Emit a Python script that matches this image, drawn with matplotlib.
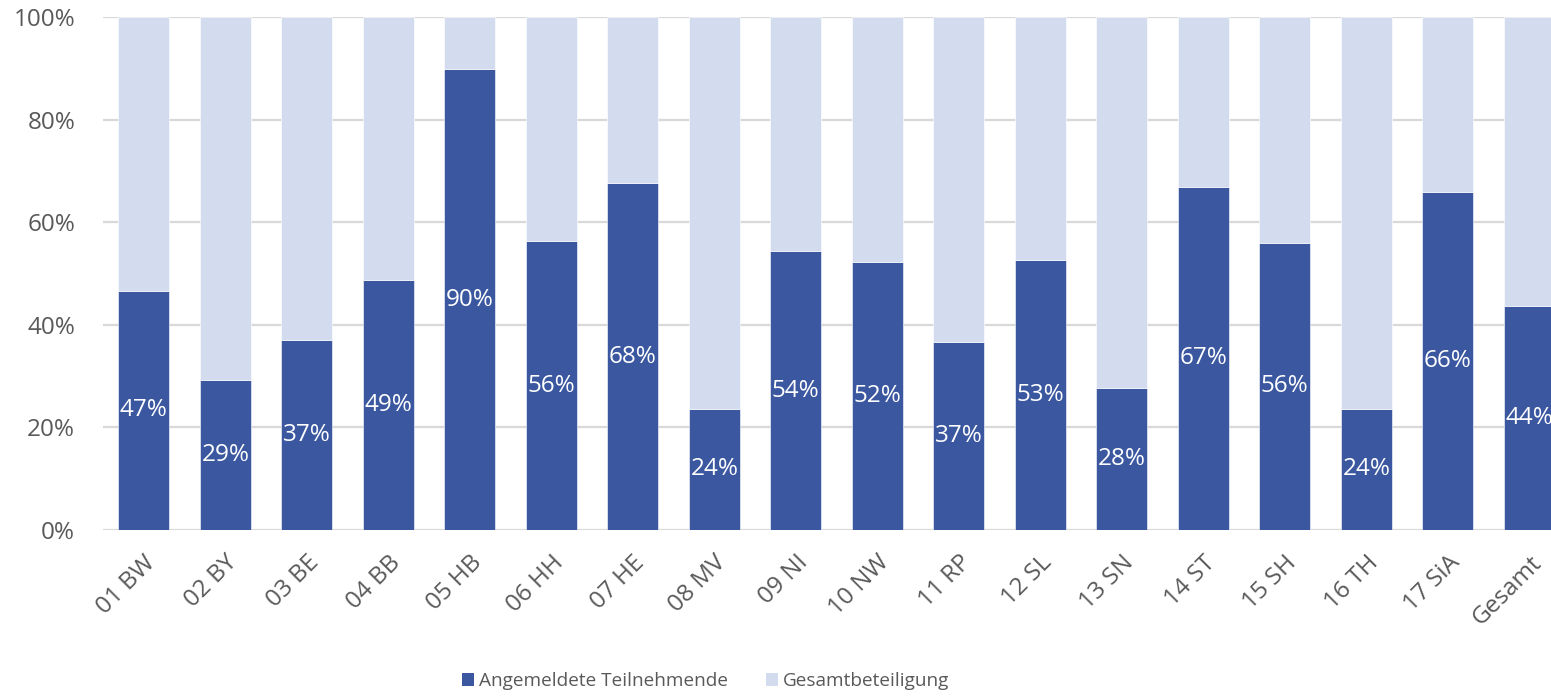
import matplotlib
matplotlib.use("Agg")
import matplotlib.pyplot as plt
from matplotlib.patches import Patch

plt.rcParams['font.family'] = ['Open Sans', 'DejaVu Sans']

categories = ["01 BW", "02 BY", "03 BE", "04 BB", "05 HB", "06 HH", "07 HE", "08 MV", "09 NI",
              "10 NW", "11 RP", "12 SL", "13 SN", "14 ST", "15 SH", "16 TH", "17 SiA", "Gesamt"]
angemeldete = [46.6, 29.3, 37.0, 48.8, 89.8, 56.3, 67.6, 23.6, 54.3, 52.3, 36.6, 52.7, 27.6,
               66.9, 56.0, 23.6, 65.8, 43.6]
gesamt = [100 - v for v in angemeldete]
yticks = [0, 20, 40, 60, 80, 100]
ytick_labels = ["0%", "20%", "40%", "60%", "80%", "100%"]
series_names = ["Angemeldete Teilnehmende", "Gesamtbeteiligung"]

dark = "#3A57A0"
light = "#D3DCEE"
grey_text = "#595959"

W, H = 1551, 697
fig = plt.figure(figsize=(W / 100, H / 100), dpi=100)
ax = fig.add_axes([103 / W, 1 - 530 / H, (1570 - 103) / W, (530 - 17) / H])

x = list(range(len(categories)))
bw = 0.626
ax.bar(x, angemeldete, width=bw, color=dark, edgecolor="white", linewidth=0.4, zorder=3)
ax.bar(x, gesamt, width=bw, bottom=angemeldete, color=light, edgecolor="white", linewidth=0.4, zorder=3)

for xi, v in zip(x, angemeldete):
    ax.text(xi, v / 2, f"{v:.0f}%", ha="center", va="center", color="white", fontsize=17.5, zorder=4)

ax.set_xlim(-0.5, len(categories) - 0.5)
ax.set_ylim(0, 100)
ax.set_yticks(yticks)
ax.set_yticklabels(ytick_labels)
ax.set_xticks(x)
ax.set_xticklabels(categories, rotation=45, ha="right", rotation_mode="anchor")
ax.tick_params(axis="both", length=0, labelsize=17.5, labelcolor=grey_text)
ax.tick_params(axis="y", pad=20)
ax.tick_params(axis="x", pad=15)
ax.yaxis.grid(True, color="#D9D9D9", linewidth=1.6, zorder=0)
ax.set_axisbelow(True)
for s in ax.spines.values():
    s.set_visible(False)

handles = [Patch(facecolor=dark, label=series_names[0]), Patch(facecolor=light, label=series_names[1])]
fig.legend(handles=handles, loc="center", bbox_to_anchor=(706 / W, 1 - 681 / H), ncol=2, frameon=False,
           fontsize=13.7, labelcolor=grey_text, handlelength=0.63, handleheight=0.63, handletextpad=0.26,
           columnspacing=2.0)

fig.savefig("out.png", dpi=100)
